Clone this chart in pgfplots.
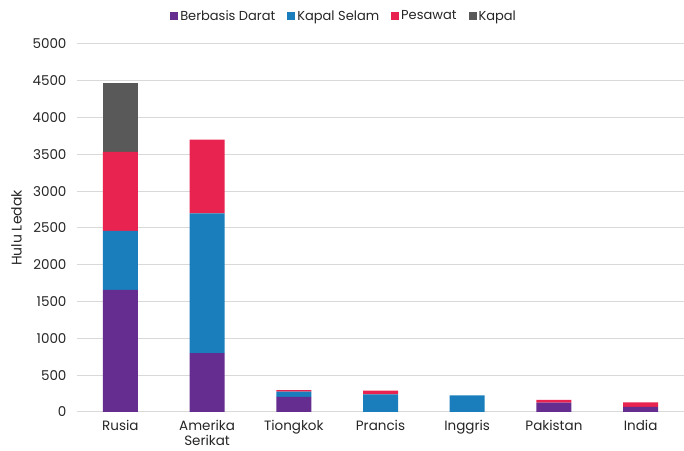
\documentclass[border=0pt]{standalone}
\usepackage{fontspec}
\setmainfont{Poppins}
\usepackage{pgfplots}
\pgfplotsset{compat=1.18}

\definecolor{darat}{HTML}{662D91}
\definecolor{selam}{HTML}{1A7EBC}
\definecolor{pesawat}{HTML}{E8234F}
\definecolor{kapal}{HTML}{595959}
\definecolor{gridgray}{HTML}{D9D9D9}

\begin{document}
\begin{tikzpicture}
\begin{axis}[
  scale only axis,
  width=607pt, height=368pt,
  ybar stacked,
  bar width=35pt,
  xmin=-0.5, xmax=6.5,
  ymin=0, ymax=5000,
  xtick=data,
  xticklabels={Rusia, Amerika\\Serikat, Tiongkok, Prancis, Inggris, Pakistan, India},
  xticklabel style={align=center, font=\fontsize{13.5}{15}\selectfont, text=black!85, yshift=-5pt},
  ytick={0,500,...,5000},
  yticklabel style={font=\fontsize{13.5}{15}\selectfont, text=black!85, xshift=-7pt},
  /pgf/number format/set thousands separator={},
  /pgf/number format/assume math mode=true,
  xmajorgrids=false,
  ymajorgrids=true,
  major grid style={draw=gridgray, line width=1pt},
  major tick length=0pt,
  tick style={draw=none},
  axis line style={draw=none},
  ylabel={Hulu Ledak},
  ylabel style={font=\fontsize{14}{15}\selectfont, text=black!85, yshift=4pt},
  legend columns=4,
  legend style={at={(0.44,1)}, anchor=south, yshift=18pt, draw=none,
    font=\fontsize{13}{14}\selectfont, text=black!85,
    /tikz/every even column/.append style={column sep=10pt}},
  legend image code/.code={\fill[#1] (0pt,-4pt) rectangle (8pt,4pt);},
  legend cell align=left,
]
% warheads by delivery system
\addplot[fill=darat, draw=none] coordinates {(0,1660) (1,800) (2,204) (3,0) (4,0) (5,126) (6,68)};
\addplot[fill=selam, draw=none] coordinates {(0,800) (1,1900) (2,72) (3,240) (4,225) (5,0) (6,0)};
\addplot[fill=pesawat, draw=none] coordinates {(0,1075) (1,1000) (2,20) (3,50) (4,0) (5,38) (6,64)};
\addplot[fill=kapal, draw=none] coordinates {(0,932) (1,0) (2,0) (3,0) (4,0) (5,0) (6,0)};
\legend{Berbasis Darat, Kapal Selam, Pesawat, Kapal}
\end{axis}
\pgfresetboundingbox
\path (current axis.south west) ++(-77pt,-39pt) coordinate (bl);
\path (current axis.north east) ++(0pt,44pt) coordinate (tr);
\path[use as bounding box] (bl) rectangle (tr);
\end{tikzpicture}
\end{document}
